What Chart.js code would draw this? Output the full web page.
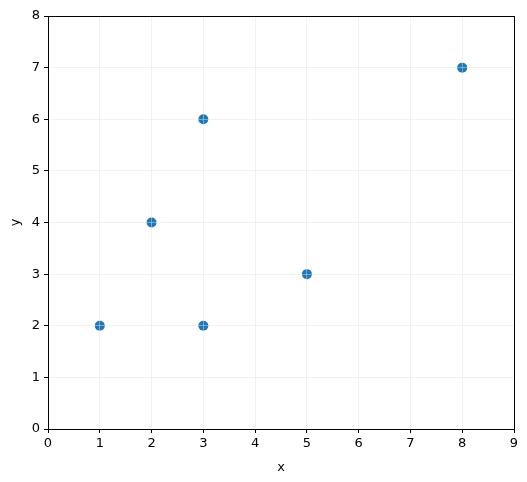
<!DOCTYPE html>
<html>
<head>
<meta charset="utf-8">
<script src="https://cdn.jsdelivr.net/npm/chart.js@4"></script>
<style>
  html, body { margin: 0; padding: 0; background: #fff; }
  #wrap { width: 527px; height: 482px; }
</style>
</head>
<body>
<div id="wrap"><canvas id="chart" width="527" height="482"></canvas></div>
<script>
const x_values = [1, 2, 3, 3, 5, 8];
const y_values = [2, 4, 6, 2, 3, 7];
const x_ticks = [0, 1, 2, 3, 4, 5, 6, 7, 8, 9];
const y_ticks = [0, 1, 2, 3, 4, 5, 6, 7, 8];

const points = x_values.map((x, i) => ({ x: x, y: y_values[i] }));

// black frame round the plot area
const frame_plugin = {
  id: 'frame',
  afterDraw(chart) {
    const ctx = chart.ctx;
    const a = chart.chartArea;
    ctx.save();
    ctx.strokeStyle = '#000';
    ctx.lineWidth = 1;
    ctx.strokeRect(Math.round(a.left) + 0.5, Math.round(a.top) + 0.5, Math.round(a.right - a.left), Math.round(a.bottom - a.top));
    ctx.restore();
  }
};

const tick_font = { family: 'DejaVu Sans', size: 13 };
const grid_color = 'rgba(225,225,225,0.45)';

new Chart(document.getElementById('chart'), {
  type: 'scatter',
  data: {
    datasets: [{
      data: points,
      backgroundColor: '#1f77b4',
      borderColor: '#1f77b4',
      pointRadius: 5,
      pointHoverRadius: 5,
      borderWidth: 0
    }]
  },
  options: {
    responsive: false,
    animation: false,
    events: [],
    layout: { padding: { top: 16, right: 13, left: 0, bottom: 0 } },
    plugins: { legend: { display: false }, tooltip: { enabled: false } },
    scales: {
      x: {
        type: 'linear',
        min: 0,
        max: 9,
        afterBuildTicks: (axis) => { axis.ticks = x_ticks.map(v => ({ value: v })); },
        afterFit: (axis) => { axis.height = 53; },
        ticks: { color: '#000', font: tick_font, padding: 3, maxRotation: 0, z: 2 },
        grid: { color: grid_color, tickColor: '#000', tickLength: 4, lineWidth: 1, z: 1 },
        border: { color: '#000', z: 2 },
        title: { display: true, text: 'x', color: '#000', font: tick_font, padding: { top: 2, bottom: 7 } }
      },
      y: {
        type: 'linear',
        min: 0,
        max: 8,
        afterBuildTicks: (axis) => { axis.ticks = y_ticks.map(v => ({ value: v })); },
        afterFit: (axis) => { axis.width = 48; },
        ticks: { color: '#000', font: tick_font, padding: 4, z: 2 },
        grid: { color: grid_color, tickColor: '#000', tickLength: 4, lineWidth: 1, z: 1 },
        border: { color: '#000', z: 2 },
        title: { display: true, text: 'y', color: '#000', font: tick_font, padding: { top: 8, bottom: 4 } }
      }
    }
  },
  plugins: [frame_plugin]
});
</script>
</body>
</html>
